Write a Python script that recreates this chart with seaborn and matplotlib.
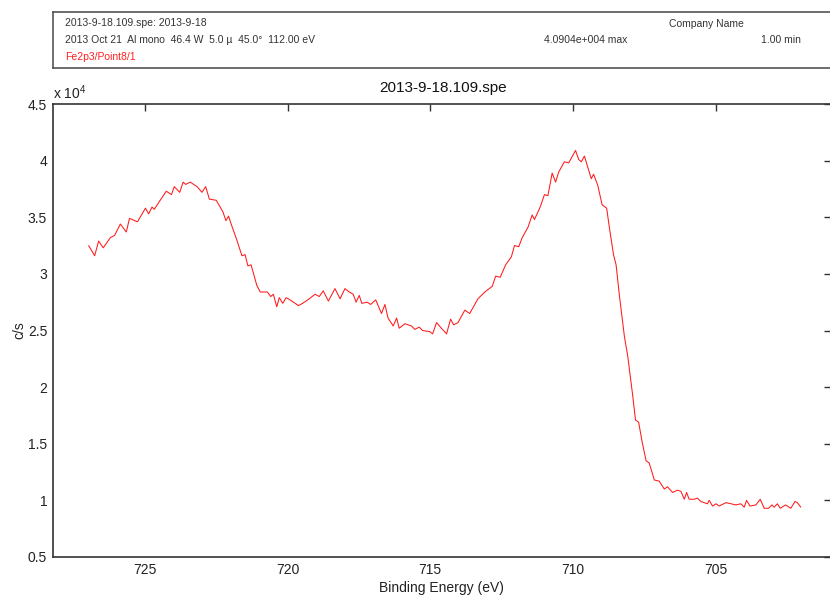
import matplotlib
matplotlib.use('Agg')
import matplotlib.pyplot as plt
import seaborn as sns

# binding energy (eV) and counts (c/s, in units of 1e4)
binding_energy = [
    726.97, 726.76, 726.62, 726.46, 726.21, 726.06, 725.86, 725.65, 725.54, 725.26,
    724.98, 724.87, 724.75, 724.67, 724.49, 724.25, 724.07, 723.97, 723.78, 723.66,
    723.57, 723.41, 723.17, 723.00, 722.87, 722.74, 722.50, 722.27, 722.16, 722.07,
    721.95, 721.78, 721.60, 721.49, 721.39, 721.28, 721.08, 720.96, 720.71, 720.59,
    720.50, 720.38, 720.29, 720.17, 720.05, 719.91, 719.62, 719.47, 719.24, 719.04,
    718.89, 718.75, 718.57, 718.34, 718.16, 717.99, 717.84, 717.70, 717.60, 717.49,
    717.40, 717.21, 717.09, 716.91, 716.71, 716.59, 716.48, 716.30, 716.18, 716.09,
    715.89, 715.66, 715.54, 715.39, 715.27, 715.02, 714.92, 714.78, 714.61, 714.43,
    714.29, 714.18, 714.03, 713.79, 713.62, 713.33, 713.09, 712.83, 712.71, 712.55,
    712.36, 712.16, 712.05, 711.90, 711.78, 711.58, 711.43, 711.35, 711.15, 711.00,
    710.88, 710.73, 710.61, 710.50, 710.30, 710.15, 709.91, 709.80, 709.71, 709.60,
    709.36, 709.28, 709.13, 708.98, 708.82, 708.72, 708.58, 708.49, 708.37, 708.20,
    708.08, 708.02, 707.91, 707.81, 707.70, 707.58, 707.44, 707.33, 707.15, 706.98,
    706.80, 706.69, 706.51, 706.34, 706.22, 706.10, 706.02, 705.93, 705.75, 705.64,
    705.52, 705.29, 705.23, 705.11, 704.99, 704.88, 704.64, 704.29, 704.12, 704.00,
    703.92, 703.80, 703.59, 703.44, 703.30, 703.15, 703.03, 702.95, 702.84, 702.74,
    702.55, 702.37, 702.22, 702.14, 702.02,
]
counts = [
    3.25, 3.16, 3.29, 3.23, 3.32, 3.34, 3.44, 3.37, 3.49, 3.46,
    3.58, 3.53, 3.59, 3.57, 3.64, 3.73, 3.70, 3.77, 3.72, 3.81,
    3.79, 3.81, 3.77, 3.72, 3.77, 3.66, 3.65, 3.55, 3.47, 3.51,
    3.42, 3.30, 3.16, 3.17, 3.07, 3.08, 2.90, 2.84, 2.84, 2.80,
    2.82, 2.71, 2.79, 2.74, 2.79, 2.77, 2.72, 2.74, 2.78, 2.82,
    2.80, 2.85, 2.76, 2.87, 2.78, 2.87, 2.84, 2.82, 2.75, 2.81,
    2.74, 2.75, 2.73, 2.77, 2.65, 2.73, 2.61, 2.54, 2.61, 2.52,
    2.56, 2.54, 2.51, 2.53, 2.50, 2.49, 2.47, 2.57, 2.52, 2.47,
    2.60, 2.55, 2.57, 2.68, 2.65, 2.78, 2.84, 2.89, 2.98, 2.97,
    3.08, 3.15, 3.25, 3.24, 3.32, 3.41, 3.52, 3.48, 3.59, 3.70,
    3.69, 3.89, 3.81, 3.90, 3.99, 3.98, 4.09, 4.01, 3.99, 4.04,
    3.84, 3.88, 3.78, 3.61, 3.58, 3.40, 3.17, 3.08, 2.80, 2.45,
    2.27, 2.15, 1.93, 1.71, 1.69, 1.52, 1.35, 1.33, 1.18, 1.17,
    1.10, 1.12, 1.07, 1.09, 1.08, 1.01, 1.07, 1.01, 1.01, 1.02,
    0.99, 0.97, 1.00, 0.95, 0.97, 0.95, 0.98, 0.96, 0.97, 0.94,
    1.00, 0.95, 0.96, 1.01, 0.93, 0.93, 0.96, 0.94, 0.97, 0.93,
    0.96, 0.93, 0.99, 0.98, 0.94,
]
x_ticks = [725, 720, 715, 710, 705]
y_ticks = [0.5, 1, 1.5, 2, 2.5, 3, 3.5, 4, 4.5]
y_tick_labels = ['0.5', '1', '1.5', '2', '2.5', '3', '3.5', '4', '4.5']

sns.set_style('white')
plt.rcParams['font.family'] = ['Liberation Sans', 'DejaVu Sans']
plt.rcParams['mathtext.fontset'] = 'custom'
plt.rcParams['mathtext.rm'] = 'Liberation Sans'

W, H = 830, 596
fig = plt.figure(figsize=(W / 100, H / 100), dpi=100)

def fx(px):
    return px / W

def fy(py):
    return 1 - py / H

# header box with file info
hdr = fig.add_axes([fx(52.7), fy(68.3), 1.0, (68.3 - 12.3) / H])
hdr.set_xticks([])
hdr.set_yticks([])
for s in hdr.spines.values():
    s.set_color('#555555')
    s.set_linewidth(1.2)

hdr_col = '#333333'
fig.text(fx(65), fy(23.3), '2013-9-18.109.spe: 2013-9-18', fontsize=7.5, color=hdr_col, va='center')
fig.text(fx(65), fy(40.3), '2013 Oct 21  Al mono  46.4 W  5.0 µ  45.0°  112.00 eV',
         fontsize=7.5, color=hdr_col, va='center')
fig.text(fx(65), fy(57.3), 'Fe2p3/Point8/1', fontsize=7.5, color='#ff2020', va='center')
fig.text(fx(706.7), fy(24), 'Company Name', fontsize=7.5, color=hdr_col, ha='center', va='center')
fig.text(fx(586), fy(40.3), '4.0904e+004 max', fontsize=7.5, color=hdr_col, ha='center', va='center')
fig.text(fx(801), fy(40.3), '1.00 min', fontsize=7.5, color=hdr_col, ha='right', va='center')

# main spectrum axes
ax = fig.add_axes([fx(52.7), fy(557), fx(831 - 52.7), (557 - 104) / H])
sns.lineplot(x=binding_energy, y=counts, color='#ff1a1a', linewidth=0.75, ax=ax)

ax.set_xlim(728.23, 700.96)
ax.set_ylim(0.5, 4.5)
ax.set_xticks(x_ticks)
ax.set_xticklabels([str(t) for t in x_ticks])
ax.set_yticks(y_ticks)
ax.set_yticklabels(y_tick_labels)
ax.tick_params(direction='in', top=True, right=True, length=5, width=1,
               color='#333333', labelsize=10, labelcolor='#222222', pad=4)
for s in ax.spines.values():
    s.set_color('#333333')
    s.set_linewidth(1.2)

fig.text(fx(443), fy(88.3), '2013-9-18.109.spe', fontsize=11, color='#111111', ha='center', va='center')
fig.text(fx(53), fy(93), r'x 10$^4$', fontsize=10, color='#222222', ha='left', va='center')
ax.set_xlabel('Binding Energy (eV)', fontsize=10, color='#222222', labelpad=3)
ax.set_ylabel('c/s', fontsize=10, color='#222222', labelpad=1)

plt.savefig('out.png', dpi=100)
